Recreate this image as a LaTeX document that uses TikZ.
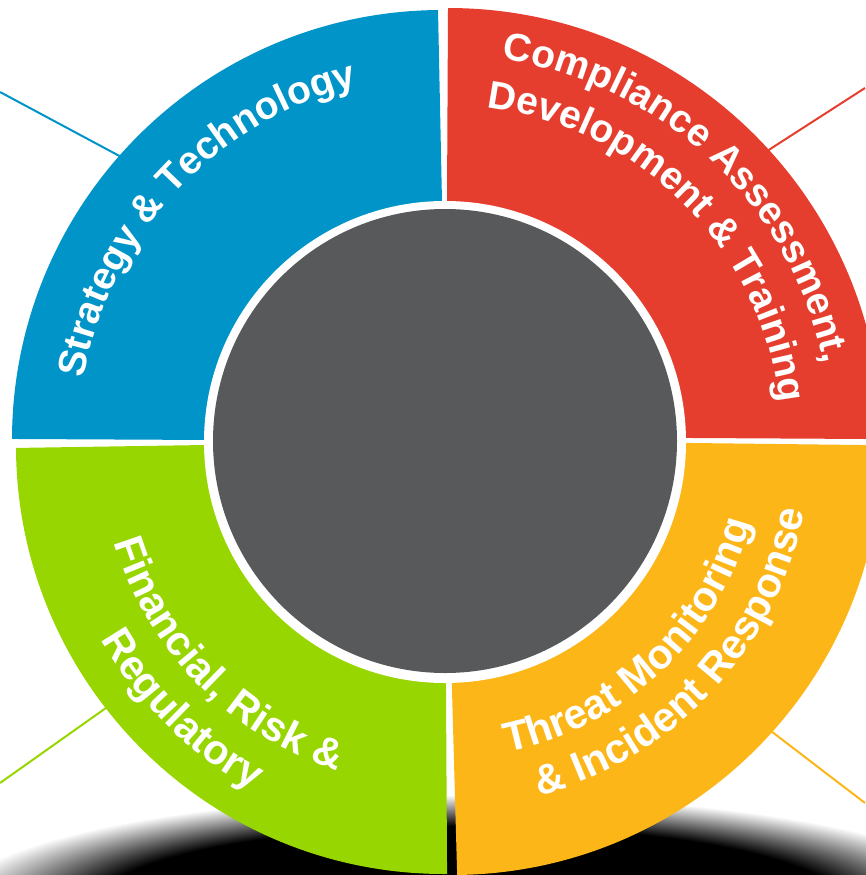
\documentclass[tikz,border=0pt]{standalone}
\usepackage{fontspec}
\usetikzlibrary{decorations.text}
\newfontfamily\lblfamily{Liberation Sans}
\newcommand{\lblU}{\lblfamily\bfseries\fontsize{39}{39}\selectfont\color{white}}
\newcommand{\lblL}{\lblfamily\bfseries\fontsize{41.5}{41.5}\selectfont\color{white}}
\definecolor{blueC}{RGB}{0,148,201}
\definecolor{redC}{RGB}{230,62,46}
\definecolor{greenC}{RGB}{151,214,0}
\definecolor{yellowC}{RGB}{253,182,24}
\definecolor{grayC}{RGB}{88,89,91}
\pgfdeclareradialshading{shadowfade}{\pgfpoint{0bp}{0bp}}{color(0bp)=(black); color(18bp)=(black); color(25bp)=(white); color(50bp)=(white)}
\begin{document}
\begin{tikzpicture}[x=1pt,y=1pt,
  conn/.style={line width=2pt},
  arctext/.style={decorate, decoration={text along path, text align=center, text={#1}}}]
\useasboundingbox (0,0) rectangle (865,-875);
% shadow
\shade[shading=shadowfade] (470,-905) ellipse [x radius=520, y radius=110];
% connectors
\coordinate (b0) at (0,-92);   \coordinate (b1) at (140,-167);
\coordinate (r0) at (865,-88); \coordinate (r1) at (750,-162);
\coordinate (g0) at (0,-783);  \coordinate (g1) at (120,-698);
\coordinate (y0) at (865,-803);\coordinate (y1) at (750,-715);
\draw[conn, blueC] (b0) -- (b1);
\draw[conn, redC] (r0) -- (r1);
\draw[conn, greenC] (g0) -- (g1);
\draw[conn, yellowC] (y0) -- (y1);
% sectors
\begin{scope}
\clip (0,0) -- (437.8,0) -- (443,-250) -- (250,-440.2) -- (0,-438.9) -- cycle;
\fill[blueC] (442,-440) circle[radius=430];
\end{scope}
\begin{scope}
\clip (448.05,0) -- (870,0) -- (870,-439.0) -- (640,-437.7) -- (446.8,-240) -- cycle;
\fill[redC] (448,-442) circle[radius=434];
\end{scope}
\begin{scope}
\clip (640,-442.4) -- (870,-445.1) -- (870,-880) -- (457.3,-880) -- (450.6,-640) -- cycle;
\fill[yellowC] (452,-445) circle[radius=430];
\end{scope}
\begin{scope}
\clip (0,-448.2) -- (250,-444.3) -- (445.7,-640) -- (447.1,-880) -- (0,-880) -- cycle;
\fill[greenC] (444,-446) circle[radius=428];
\end{scope}
% hub
\fill[white] (445,-442) circle[radius=241];
\fill[grayC] (445,-441) circle[radius=232];
% labels
\begin{scope}[shift={(445,-442)}]
\path[arctext={|\lblU|Strategy {\&} Technology}] (196.9:367) arc[start angle=196.9, end angle=76.9, radius=367];
\path[arctext={|\lblU|Compliance Assessment,}] (106.6:387) arc[start angle=106.6, end angle=-13.4, radius=387];
\path[arctext={|\lblU|Development {\&} Training}] (104.8:337) arc[start angle=104.8, end angle=-15.2, radius=337];
\path[arctext={|\lblL|Financial, Risk {\&}}] (164.4:346) arc[start angle=164.4, end angle=284.4, radius=346];
\path[arctext={|\lblL|Regulatory}] (165.5:397) arc[start angle=165.5, end angle=285.5, radius=397];
\path[arctext={|\lblL|Threat Monitoring}] (-106.7:316) arc[start angle=-106.7, end angle=13.3, radius=316];
\path[arctext={|\lblL|{\&} Incident Response}] (-103:366) arc[start angle=-103, end angle=17, radius=366];
\end{scope}
\end{tikzpicture}
\end{document}
